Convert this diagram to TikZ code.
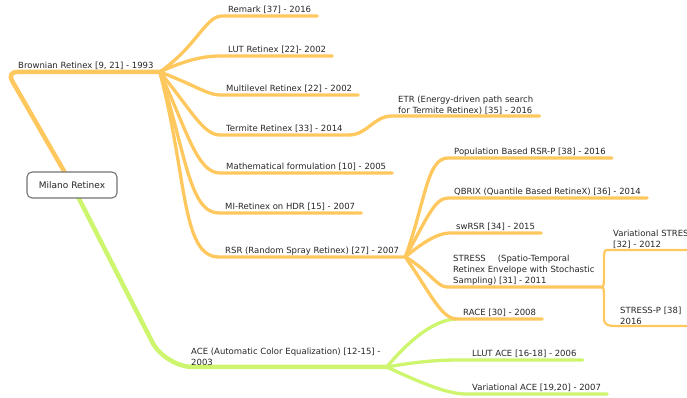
\documentclass[tikz,border=0pt]{standalone}
\usepackage{fontspec}
\setmainfont{DejaVu Sans}
\usetikzlibrary{backgrounds}
\definecolor{retorange}{RGB}{255,200,95}
\definecolor{acegreen}{RGB}{205,245,110}
\tikzset{
	leaf/.style={anchor=south west, inner xsep=6pt, inner ysep=0.8pt, text depth=2pt, text=black!85, font=\fontsize{8.5}{10.8}\selectfont},
	leafm/.style={anchor=south west, inner xsep=6pt, inner ysep=1.6pt, align=left, text=black!85, font=\fontsize{8.5}{10.8}\selectfont},
	trunk/.style={line width=4.5pt, line cap=round},
	branch/.style={line width=3.3pt, line cap=round},
	twig/.style={line width=2.2pt, line cap=round},
	sprout/.style={out=#1, in=180, out looseness=1.4, in looseness=0.5},
}
\begin{document}
\begin{tikzpicture}[x=1pt,y=1pt]
	\useasboundingbox (0,0) rectangle (687,398);
	\clip (0,0) rectangle (687,398);
	\draw (72,213) node[rounded corners=5pt, draw=black!55, line width=1.1pt, fill=white, minimum width=90pt, minimum height=26pt, text=black!85, font=\fontsize{9}{11}\selectfont] (milano) {Milano Retinex};
	
	\draw (12,326) node[leaf] (brownian) {Brownian Retinex [9, 21] - 1993};
	\draw (222,382) node[leaf] (remark) {Remark [37] - 2016};
	\draw (222,342) node[leaf] (lut) {LUT Retinex [22]- 2002};
	\draw (220,303) node[leaf] (multi) {Multilevel Retinex [22] - 2002};
	\draw (220,263) node[leaf] (termite) {Termite Retinex [33] - 2014};
	\draw (220,225) node[leaf] (math) {Mathematical formulation [10] - 2005};
	\draw (219,185) node[leaf] (mi) {MI-Retinex on HDR [15] - 2007};
	\draw (219,141) node[leaf] (rsr) {RSR (Random Spray Retinex) [27] - 2007};
	\draw (392,282) node[leafm] (etr) {ETR (Energy-driven path search\\for Termite Retinex) [35] - 2016};
	
	\draw (448,240) node[leaf] (popul) {Population Based RSR-P [38] - 2016};
	\draw (448,200) node[leaf] (qbrix) {QBRIX (Quantile Based RetineX) [36] - 2014};
	\draw (450,165) node[leaf] (swrsr) {swRSR [34] - 2015};
	\draw (447,111) node[leafm] (stress) {STRESS\hspace*{12pt}(Spatio-Temporal\\Retinex Envelope with Stochastic\\Sampling) [31] - 2011};
	\draw (457,79) node[leaf] (race) {RACE [30] - 2008};
	\coordinate (stresshub) at (601,111);
	\draw (607,148) node[leafm, text width=90pt] (varstress) {Variational STRESS\\{}[32] - 2012};
	\draw (614,72) node[leafm, text width=70pt] (stressp) {STRESS-P [38]\\2016};
	
	\draw (185,31) node[leafm] (ace) {ACE (Automatic Color Equalization) [12-15] -\\2003};
	\draw (466,38) node[leaf] (llut) {LLUT ACE [16-18] - 2006};
	\draw (466,4) node[leaf] (varace) {Variational ACE [19,20] - 2007};
	
	\begin{scope}[on background layer]
		\draw[trunk, retorange, rounded corners=10pt] (milano.center) -- (7,326) -- (brownian.south east);
		\draw[trunk, acegreen, rounded corners=28pt] (milano.center) -- (165,31) -- (ace.south east);
	\end{scope}
	
	\draw[branch, retorange] (brownian.south east) to[sprout=35] (remark.south west) -- (remark.south east);
	\draw[branch, retorange] (brownian.south east) to[sprout=25] (lut.south west) -- (lut.south east);
	\draw[branch, retorange] (brownian.south east) to[sprout=-20] (multi.south west) -- (multi.south east);
	\draw[branch, retorange] (brownian.south east) to[sprout=-50] (termite.south west) -- (termite.south east);
	\draw[branch, retorange] (brownian.south east) to[sprout=-65] (math.south west) -- (math.south east);
	\draw[branch, retorange] (brownian.south east) to[sprout=-72] (mi.south west) -- (mi.south east);
	\draw[branch, retorange] (brownian.south east) to[sprout=-75] (rsr.south west) -- (rsr.south east);
	\draw[branch, retorange] (termite.south east) to[out=0, in=180] (etr.south west) -- (etr.south east);
	
	\draw[branch, acegreen] (ace.south east) to[sprout=50] (race.south west);
	\draw[branch, acegreen] (ace.south east) to[sprout=10] (llut.south west) -- (llut.south east);
	\draw[branch, acegreen] (ace.south east) to[sprout=-25] (varace.south west) -- (varace.south east);
	
	\draw[branch, retorange] (rsr.south east) to[sprout=70] (popul.south west) -- (popul.south east);
	\draw[branch, retorange] (rsr.south east) to[sprout=60] (qbrix.south west) -- (qbrix.south east);
	\draw[branch, retorange] (rsr.south east) to[sprout=40] (swrsr.south west) -- (swrsr.south east);
	\draw[branch, retorange] (rsr.south east) to[sprout=-30] (stress.south west) -- (stresshub);
	\draw[branch, retorange] (rsr.south east) to[sprout=-55] (race.south west) -- (race.south east);
	
	\draw[twig, retorange] (stresshub) to[out=0, in=-90] ++(3,7) -- ++(0,24) to[out=90, in=180] (varstress.south west) -- (varstress.south east);
	\draw[twig, retorange] (stresshub) to[out=0, in=90] ++(3,-7) -- ++(0,-26) to[out=-90, in=180] (stressp.south west) -- (stressp.south east);
\end{tikzpicture}
\end{document}
